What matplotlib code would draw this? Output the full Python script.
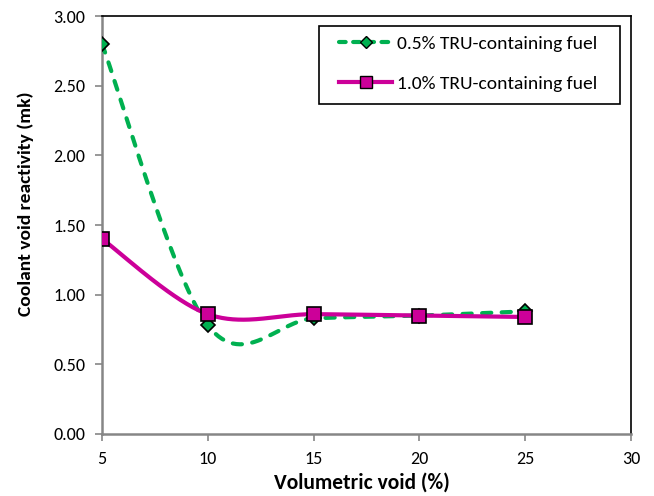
import numpy as np
import matplotlib
matplotlib.use("Agg")
import matplotlib.pyplot as plt
from matplotlib.lines import Line2D
from matplotlib.patches import Rectangle
import warnings
warnings.filterwarnings("ignore")

plt.rcParams['font.family'] = ['Carlito', 'Lato', 'DejaVu Sans']

void_pct = [5, 10, 15, 20, 25]
cvr_05 = [2.80, 0.78, 0.83, 0.85, 0.88]
cvr_10 = [1.40, 0.86, 0.86, 0.85, 0.84]
label_05 = "0.5% TRU-containing fuel"
label_10 = "1.0% TRU-containing fuel"
y_ticks = [0.0, 0.5, 1.0, 1.5, 2.0, 2.5, 3.0]
x_ticks = [5, 10, 15, 20, 25, 30]


def smooth(xs, ys, n=60):
    """Bezier smoothing through the points (Catmull-Rom style)."""
    P = np.column_stack([xs, ys]).astype(float)
    out = [P[0]]
    m = len(P)
    for i in range(m - 1):
        p0 = P[i - 1] if i > 0 else P[i]
        p1, p2 = P[i], P[i + 1]
        p3 = P[i + 2] if i + 2 < m else P[i + 1]
        c1 = p1 + (p2 - p0) / 6.0
        c2 = p2 - (p3 - p1) / 6.0
        t = np.linspace(0, 1, n)[1:, None]
        seg = ((1 - t) ** 3) * p1 + 3 * ((1 - t) ** 2) * t * c1 + 3 * (1 - t) * t ** 2 * c2 + t ** 3 * p2
        out.extend(seg)
    out = np.array(out)
    return out[:, 0], out[:, 1]


green = "#00B050"
magenta = "#CC0099"
dash = (0, (2.2, 2.5))

fig = plt.figure(figsize=(6.54, 4.96), dpi=100)
ax = fig.add_axes([102 / 654, 62 / 496, 529 / 654, 418 / 496])

sx, sy = smooth(void_pct, cvr_05)
ax.plot(sx, sy, color=green, lw=3, ls=dash, dash_capstyle='round', zorder=3)
ax.plot(void_pct, cvr_05, ls='none', marker='D', ms=7.2, mfc=green, mec='black', mew=1.2, zorder=4)

sx, sy = smooth(void_pct, cvr_10)
ax.plot(sx, sy, color=magenta, lw=3, solid_capstyle='round', zorder=3)
ax.plot(void_pct, cvr_10, ls='none', marker='s', ms=10, mfc=magenta, mec='black', mew=1.2, zorder=5)

ax.set_xlim(5, 30)
ax.set_ylim(0, 3.0)
ax.set_xticks(x_ticks)
ax.set_xticklabels([str(v) for v in x_ticks])
ax.set_yticks(y_ticks)
ax.set_yticklabels([f"{v:.2f}" for v in y_ticks])
ax.tick_params(axis='both', direction='out', length=5, width=1.2, color='#868686',
               labelsize=13)
ax.tick_params(axis='y', pad=7)
ax.tick_params(axis='x', pad=7)

for s in ['left', 'bottom']:
    ax.spines[s].set_color('#868686')
    ax.spines[s].set_linewidth(1.8)
    ax.spines[s].set_zorder(2.5)
for s in ['top', 'right']:
    ax.spines[s].set_color('black')
    ax.spines[s].set_linewidth(1.2)

ax.set_xlabel("Volumetric void (%)", fontsize=15.5, fontweight='bold')
ax.set_ylabel("Coolant void reactivity (mk)", fontsize=14, fontweight='bold')
ax.xaxis.set_label_coords((362 - 102) / 529, (434 - 473) / 418)
ax.yaxis.set_label_coords((34 - 102) / 529, (434 - 204) / 418)

# legend box
ax.add_patch(Rectangle(((319 - 102) / 529, (434 - 104) / 418), 301 / 529, 78 / 418,
                       transform=ax.transAxes, facecolor='white', edgecolor='black',
                       lw=1.2, clip_on=False, zorder=6))
handles = [
    Line2D([], [], color=green, lw=3, ls=(0, (1.6, 1.8)), dash_capstyle='round',
           marker='D', ms=6.5, mfc=green, mec='black', mew=1.0),
    Line2D([], [], color=magenta, lw=3, marker='s', ms=9, mfc=magenta, mec='black', mew=1.0),
]
leg = ax.legend(handles, [label_05, label_10], loc='upper left',
                bbox_to_anchor=((339 - 102) / 529, (434 - 35) / 418),
                fontsize=14, frameon=False, borderpad=0, borderaxespad=0,
                labelspacing=1.2, handlelength=2.75, handletextpad=0.25)
leg.set_zorder(7)

fig.savefig("out.png", dpi=100)
